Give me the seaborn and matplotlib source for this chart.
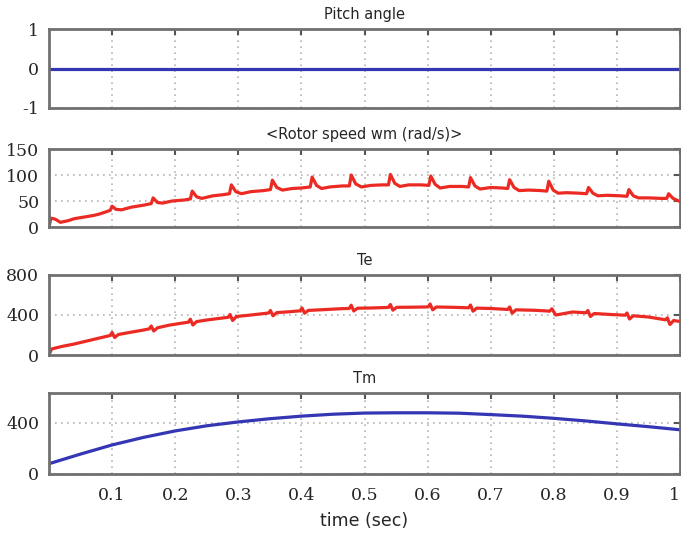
import matplotlib
matplotlib.use("Agg")
import matplotlib.pyplot as plt
import seaborn as sns
import pandas as pd

# ---- data -------------------------------------------------------------
pitch_t = [0.0, 1.0]
pitch_v = [0.0, 0.0]

speed_t = [0.000, 0.003, 0.010, 0.018, 0.030, 0.040, 0.050, 0.060, 0.070, 0.080,
           0.090, 0.097, 0.100, 0.106, 0.115, 0.130, 0.150, 0.162, 0.165, 0.172,
           0.180, 0.195, 0.215, 0.224, 0.227, 0.234, 0.242, 0.260, 0.275, 0.286,
           0.289, 0.296, 0.305, 0.320, 0.340, 0.351, 0.354, 0.361, 0.370, 0.385,
           0.400, 0.414, 0.417, 0.424, 0.432, 0.445, 0.465, 0.476, 0.479, 0.486,
           0.495, 0.510, 0.528, 0.538, 0.541, 0.548, 0.556, 0.570, 0.590, 0.602,
           0.605, 0.612, 0.620, 0.635, 0.655, 0.665, 0.668, 0.675, 0.683, 0.700,
           0.718, 0.727, 0.730, 0.737, 0.745, 0.760, 0.780, 0.789, 0.792, 0.799,
           0.807, 0.820, 0.840, 0.852, 0.855, 0.862, 0.870, 0.885, 0.905, 0.916,
           0.919, 0.926, 0.934, 0.950, 0.970, 0.979, 0.982, 0.989, 1.000]
speed_v = [0, 17, 15, 9, 12, 16, 18, 20, 22, 25,
           29, 32, 40, 34, 33, 38, 42, 45, 56, 47,
           46, 50, 52, 54, 69, 58, 55, 60, 62, 64,
           81, 68, 64, 68, 70, 72, 90, 76, 71, 74,
           75, 77, 96, 80, 74, 77, 79, 79, 100, 83,
           77, 80, 81, 81, 101, 84, 78, 81, 81, 80,
           98, 82, 75, 78, 78, 77, 95, 79, 73, 76,
           75, 74, 91, 76, 70, 71, 70, 69, 88, 71,
           65, 66, 65, 64, 76, 65, 60, 61, 60, 59,
           72, 60, 56, 56, 55, 55, 64, 55, 49]

te_t = [0.000, 0.004, 0.020, 0.040, 0.060, 0.080, 0.097, 0.100, 0.104, 0.110,
        0.130, 0.150, 0.159, 0.162, 0.166, 0.172, 0.190, 0.210, 0.221, 0.224,
        0.228, 0.234, 0.250, 0.270, 0.284, 0.287, 0.291, 0.297, 0.320, 0.340,
        0.348, 0.351, 0.355, 0.361, 0.380, 0.398, 0.401, 0.405, 0.411, 0.440,
        0.460, 0.476, 0.479, 0.483, 0.489, 0.510, 0.530, 0.538, 0.541, 0.545,
        0.551, 0.575, 0.595, 0.601, 0.604, 0.608, 0.614, 0.640, 0.660, 0.665,
        0.668, 0.672, 0.678, 0.700, 0.720, 0.727, 0.730, 0.734, 0.740, 0.770,
        0.790, 0.793, 0.797, 0.803, 0.830, 0.851, 0.854, 0.858, 0.864, 0.890,
        0.913, 0.916, 0.920, 0.926, 0.950, 0.977, 0.980, 0.984, 0.990, 1.000]
te_v = [0, 60, 85, 110, 140, 170, 195, 225, 175, 205,
        228, 250, 262, 290, 240, 272, 298, 318, 328, 358,
        300, 334, 350, 366, 377, 405, 345, 385, 400, 414,
        420, 445, 392, 424, 432, 442, 470, 418, 446, 455,
        462, 466, 498, 440, 468, 470, 474, 476, 505, 448,
        477, 478, 480, 481, 510, 452, 480, 477, 473, 472,
        500, 438, 469, 465, 458, 455, 480, 418, 452, 447,
        440, 437, 462, 400, 430, 422, 445, 385, 415, 405,
        398, 420, 360, 392, 380, 352, 372, 305, 345, 335]

tm_t = [0.00, 0.05, 0.10, 0.15, 0.20, 0.25, 0.30, 0.35, 0.40, 0.45,
        0.50, 0.55, 0.60, 0.65, 0.70, 0.75, 0.80, 0.85, 0.90, 0.95, 1.00]
tm_v = [80, 155, 226, 285, 335, 375, 405, 430, 450, 465,
        474, 476, 476, 473, 462, 450, 433, 413, 390, 368, 344]

panel_titles = ["Pitch angle", "<Rotor speed wm (rad/s)>", "Te", "Tm"]
x_ticks = [0.1, 0.2, 0.3, 0.4, 0.5, 0.6, 0.7, 0.8, 0.9, 1.0]
x_tick_labels = ["0.1", "0.2", "0.3", "0.4", "0.5", "0.6", "0.7", "0.8", "0.9", "1"]
y_ticks = [[-1, 0, 1], [0, 50, 100, 150], [0, 400, 800], [0, 400]]
y_limits = [(-1, 1), (0, 150), (0, 800), (0, 630)]

RED = "#ec2a24"
BLUE = "#3436b4"

# ---- figure -----------------------------------------------------------
sns.set_style("white")
W, H = 681, 538
fig = plt.figure(figsize=(W / 100, H / 100), dpi=100)

boxes = [(29, 108), (149, 227), (275, 355), (393, 474)]
series = [(pitch_t, pitch_v, BLUE), (speed_t, speed_v, RED),
          (te_t, te_v, RED), (tm_t, tm_v, BLUE)]

tick_font = dict(family="DejaVu Serif", size=12.5)

for i, ((top, bot), (tx, ty, col)) in enumerate(zip(boxes, series)):
    ax = fig.add_axes([49 / W, 1 - bot / H, 631 / W, (bot - top) / H])
    df = pd.DataFrame({"t": tx, "v": ty})
    sns.lineplot(data=df, x="t", y="v", ax=ax, color=col, linewidth=2.3)
    ax.set_xlim(0, 1)
    ax.set_ylim(*y_limits[i])
    ax.set_xticks(x_ticks)
    ax.set_yticks(y_ticks[i])
    ax.set_xlabel("")
    ax.set_ylabel("")
    ax.grid(True, color="#b4b4b4", linestyle=(0, (1.0, 2.6)), linewidth=1.2)
    ax.set_axisbelow(True)
    for sp in ax.spines.values():
        sp.set_color("#707070")
        sp.set_linewidth(2.0)
    ax.tick_params(axis="both", direction="in", length=4, width=1.5,
                   color="#555555", top=True, right=True, pad=7)
    ax.set_yticklabels([str(v) for v in y_ticks[i]], fontdict=tick_font)
    if i == 3:
        labels = ax.set_xticklabels(x_tick_labels, fontdict=tick_font)
        labels[-1].set_horizontalalignment("right")
        ax.tick_params(axis="x", pad=9)
        ax.set_xlabel("time (sec)", fontsize=12.5, family="DejaVu Sans",
                      labelpad=6)
    else:
        ax.set_xticklabels([])
    ax.set_title(panel_titles[i], fontsize=10.5, family="DejaVu Sans", pad=7)

fig.savefig("out.png", dpi=100)
